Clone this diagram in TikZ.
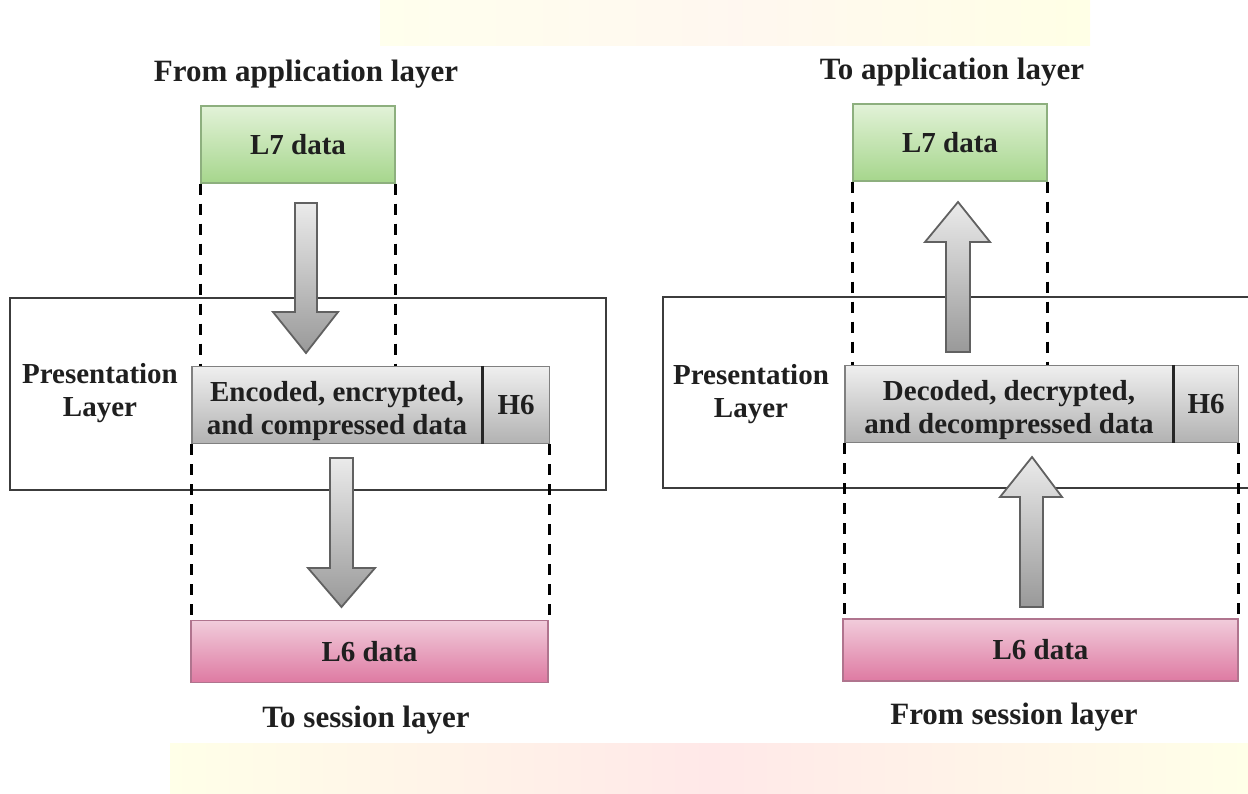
\documentclass[tikz,border=0pt]{standalone}
\usepackage{fontspec}
\setmainfont{Liberation Serif}
\usetikzlibrary{positioning}

\definecolor{greentop}{HTML}{E2F2D8}
\definecolor{greenbot}{HTML}{A6D68C}
\definecolor{greenedge}{HTML}{8DAF7E}
\definecolor{pinktop}{HTML}{F1CCDB}
\definecolor{pinkbot}{HTML}{DE7AA2}
\definecolor{pinkedge}{HTML}{B0748E}
\definecolor{greytop}{HTML}{EFEFEF}
\definecolor{greybot}{HTML}{B2B2B2}
\definecolor{frameline}{HTML}{3C3C3C}

\begin{document}
\begin{tikzpicture}[x=1pt, y=-1pt,
    txt/.style={font=\bfseries\fontsize{29}{33}\selectfont, text=black!88}, % text of all labels
    lbl/.style={font=\bfseries\fontsize{31}{35}\selectfont, text=black!88, anchor=base, inner sep=0pt},
    datatext/.style={txt, align=center, inner sep=0pt, yshift=-6pt},
    l7box/.style={txt, draw=greenedge, line width=1.2pt, top color=greentop, bottom color=greenbot, minimum width=194pt, minimum height=77pt, inner sep=0pt},
    l6box/.style={txt, draw=pinkedge, line width=1.2pt, top color=pinktop, bottom color=pinkbot, minimum height=62pt, inner sep=0pt},
    databox/.style={txt, draw=black!50, line width=1.2pt, top color=greytop, bottom color=greybot, minimum height=77pt, inner sep=0pt, align=center},
    dashline/.style={line width=3pt, dash pattern=on 11pt off 9pt},
    frame/.style={draw=frameline, line width=2pt},
    bigarrow/.style={draw=black!62, line width=1.8pt, line join=miter, top color=black!8, bottom color=black!40}
    ]
\useasboundingbox (0,0) rectangle (1248,793);
% faint bands behind the picture
\shade[left color=yellow!7, right color=yellow!10, middle color=orange!6] (380,0) rectangle (1090,45);
\shade[left color=yellow!9, right color=yellow!9, middle color=red!9] (170,743) rectangle (1248,793);

% left side: from application layer down to session layer
\draw[frame] (10,298) rectangle (606,490);
\node[lbl] (fromApp) at (306,81) {From application layer};
\node[l7box] (l7L) at (298,144.5) {L7 data};
\node[txt, align=center] (presL) at (100,393) {Presentation\\Layer};
\node[databox, minimum width=290pt, label={[datatext]center:{Encoded, encrypted,\\and compressed data}}] (encL) at (337,405) {};
\node[databox, minimum width=66pt, anchor=west] (h6L) at (encL.east) {H6};
\draw[line width=2.5pt, black!85] (h6L.north west) -- (h6L.south west);
\node[l6box, minimum width=357pt] (l6L) at (369.5,651.5) {L6 data};
\node[lbl] (toSess) at (366,727) {To session layer};

\draw[dashline] (l7L.south west) -- (l7L.south west |- encL.north);
\draw[dashline] (l7L.south east) -- (l7L.south east |- encL.north);
\draw[dashline] (encL.south west) -- (encL.south west |- l6L.north);
\draw[dashline] (h6L.south east) -- (h6L.south east |- l6L.north);

\draw[bigarrow] (295,203) -- (317,203) -- (317,312) -- (338,312) -- (306,353) -- (273,312) -- (295,312) -- cycle;
\draw[bigarrow] (330,458) -- (353,458) -- (353,568) -- (375,568) -- (341.5,607) -- (308,568) -- (330,568) -- cycle;

% right side: from session layer up to application layer
\draw[frame] (663,297) rectangle (1262,488);
\node[lbl] (toApp) at (952,79) {To application layer};
\node[l7box] (l7R) at (950,142.5) {L7 data};
\node[txt, align=center] (presR) at (751,394) {Presentation\\Layer};
\node[databox, minimum width=328pt, label={[datatext]center:{Decoded, decrypted,\\and decompressed data}}] (decR) at (1009,404) {};
\node[databox, minimum width=64pt, anchor=west] (h6R) at (decR.east) {H6};
\draw[line width=2.5pt, black!85] (h6R.north west) -- (h6R.south west);
\node[l6box, minimum width=395pt] (l6R) at (1040.5,650) {L6 data};
\node[lbl] (fromSess) at (1014,724) {From session layer};

\draw[dashline] (l7R.south west) -- (l7R.south west |- decR.north);
\draw[dashline] (l7R.south east) -- (l7R.south east |- decR.north);
\draw[dashline] (decR.south west) -- (decR.south west |- l6R.north);
\draw[dashline] (h6R.south east) -- (h6R.south east |- l6R.north);

\draw[bigarrow] (946,352) -- (970,352) -- (970,242) -- (990,242) -- (958,202) -- (925,242) -- (946,242) -- cycle;
\draw[bigarrow] (1020,607) -- (1043,607) -- (1043,497) -- (1062,497) -- (1032,457) -- (1000,497) -- (1020,497) -- cycle;
\end{tikzpicture}
\end{document}
